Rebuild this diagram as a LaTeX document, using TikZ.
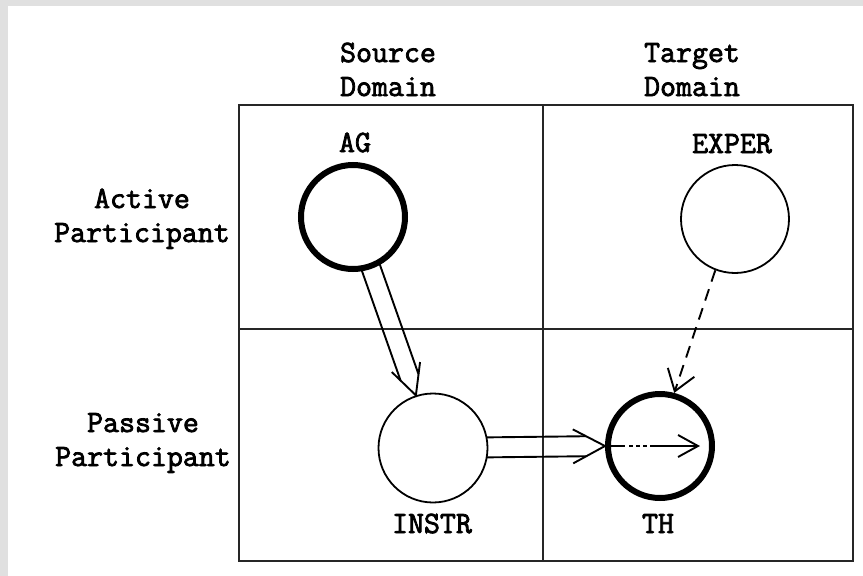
\documentclass[tikz,border=0pt]{standalone}
\usepackage{fontspec}
\usetikzlibrary{calc,arrows.meta}
\newfontfamily\tw{Latin Modern Mono}[FakeBold=2.5]
\definecolor{bggray}{RGB}{224,224,224}
\tikzset{
  gridline/.style={draw=black!85, line width=2.4pt},
  role/.style={circle, draw=black, line width=1.8pt, minimum size=108pt, inner sep=0pt},
  focus/.style={role, line width=6pt, minimum size=104pt},
  lab/.style={font=\tw\fontsize{31}{34}\selectfont, inner sep=0pt, anchor=base},
  conn/.style={draw=black, line width=1.9pt},
  barb/.style={conn, line join=miter},
}
\begin{document}
\begin{tikzpicture}[x=1pt,y=-1pt]
\useasboundingbox (0,0) rectangle (863,576);
\fill[bggray] (0,0) rectangle (863,576);
\fill[white] (8,6) rectangle (863,576);

% grid
\draw[gridline] (239,105) rectangle (853,561);
\draw[gridline] (543,105) -- (543,561);
\draw[gridline] (239,329) -- (853,329);

% headers
\node[lab] (src) at (388,62) {\begin{tabular}[t]{@{}c@{}}Source\\Domain\end{tabular}};
\node[lab] (tgt) at (692,62) {\begin{tabular}[t]{@{}c@{}}Target\\Domain\end{tabular}};
\node[lab] (act) at (142,208) {\begin{tabular}[t]{@{}c@{}}Active\\Participant\end{tabular}};
\node[lab] (pas) at (143,432) {\begin{tabular}[t]{@{}c@{}}Passive\\Participant\end{tabular}};

% role labels
\node[lab] (agl) at (355,152) {AG};
\node[lab] (expl) at (732,153) {EXPER};
\node[lab] (insl) at (432,533) {INSTR};
\node[lab] (thl) at (658,533) {TH};

% circles
\node[focus] (ag) at (353,217) {};
\node[role] (exper) at (735,219) {};
\node[role, minimum size=109pt] (instr) at (433,448) {};
\node[focus] (th) at (660,446) {};

% AG => INSTR (hollow double arrow)
\coordinate (t1) at (instr.108);
\coordinate (a1) at ($(ag.center)!52pt!(t1)$);
\coordinate (m1) at ($(t1)!19pt!(ag.center)$);
\coordinate (n1) at ($(t1)!30pt!(ag.center)$);
\draw[conn] ($(a1)!9.5pt!-90:(t1)$) -- ($(m1)!9.5pt!-90:(t1)$);
\draw[conn] ($(a1)!9.5pt!90:(t1)$) -- ($(m1)!9.5pt!90:(t1)$);
\draw[barb] ($(n1)!15pt!-90:(t1)$) -- (t1) -- ($(n1)!15pt!90:(t1)$);

% INSTR => TH (hollow double arrow)
\coordinate (t2) at (th.west);
\coordinate (a2) at ($(instr.center)!54pt!(t2)$);
\coordinate (m2) at ($(t2)!18.8pt!(instr.center)$);
\coordinate (n2) at ($(t2)!32pt!(instr.center)$);
\draw[conn] ($(a2)!10pt!-90:(t2)$) -- ($(m2)!10pt!-90:(t2)$);
\draw[conn] ($(a2)!10pt!90:(t2)$) -- ($(m2)!10pt!90:(t2)$);
\draw[barb] ($(n2)!17pt!-90:(t2)$) -- (t2) -- ($(n2)!17pt!90:(t2)$);

% arrow inside TH
\coordinate (t3) at ($(th.center)+(40,0)$);
\draw[conn, dash pattern=on 20pt off 4pt on 4pt off 3pt on 4pt off 3pt on 4pt off 3pt on 80pt,
      -{Straight Barb[length=20pt,width=22pt]}] (t2) -- (t3);

% EXPER -> TH dashed
\draw[conn, dash pattern=on 12pt off 8pt,
      -{Straight Barb[length=20pt,width=28pt]}] (exper.249) -- (th.75);
\end{tikzpicture}
\end{document}
